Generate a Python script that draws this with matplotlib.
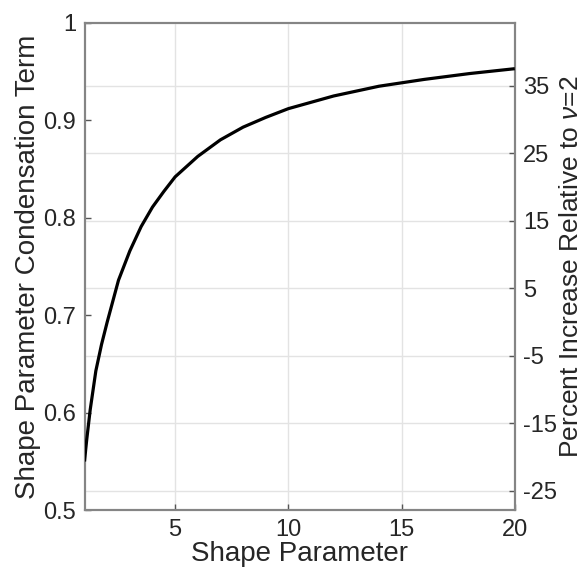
import numpy as np
import matplotlib
matplotlib.use("Agg")
import matplotlib.pyplot as plt

plt.rcParams['font.family'] = ['Liberation Sans', 'DejaVu Sans']
plt.rcParams['mathtext.fontset'] = 'custom'
plt.rcParams['mathtext.it'] = 'Liberation Sans:italic'
plt.rcParams['mathtext.rm'] = 'Liberation Sans'

# Shape parameter and its condensation term
shape = [1.0, 1.05, 1.1, 1.25, 1.5, 1.75, 2.0, 2.5, 3.0, 3.5, 4.0, 4.5,
         5.0, 6.0, 7.0, 8.0, 9.0, 10.0, 12.0, 14.0, 16.0, 18.0, 20.0]
term = [0.550, 0.562, 0.573, 0.603, 0.643, 0.670, 0.693, 0.736, 0.766, 0.791, 0.811, 0.827,
        0.842, 0.863, 0.880, 0.893, 0.903, 0.912, 0.925, 0.935, 0.942, 0.948, 0.953]

reference_shape = 2.0
x_ticks = [5, 10, 15, 20]
left_ticks = [0.5, 0.6, 0.7, 0.8, 0.9, 1.0]
left_labels = ["0.5", "0.6", "0.7", "0.8", "0.9", "1"]
right_ticks = [-25, -15, -5, 5, 15, 25, 35]

spine_col = "#858585"
grid_col = "#e3e3e3"
text_col = "#262626"

fig = plt.figure(figsize=(5.87, 5.72), dpi=100)
ax = fig.add_axes([0.144, 0.108, 0.733, 0.852])
ax2 = ax.twinx()

ref_val = term[shape.index(reference_shape)]
ylo, yhi = 0.5, 1.0

ax.plot(shape, term, color="black", lw=2.3, solid_capstyle="butt",
        solid_joinstyle="round", zorder=5)
ax.set_xlim(1, 20)
ax.set_ylim(ylo, yhi)
ax.set_xticks(x_ticks)
ax.set_yticks(left_ticks)
ax.set_yticklabels(left_labels)

ax2.set_ylim((ylo / ref_val - 1) * 100, (yhi / ref_val - 1) * 100)
ax2.set_yticks(right_ticks)
ax2.set_yticklabels([str(t) for t in right_ticks])

# grid: vertical from x ticks, horizontal from the percent axis
ax.xaxis.grid(True, color=grid_col, lw=1.0)
ax.yaxis.grid(False)
ax2.yaxis.grid(True, color=grid_col, lw=1.0)
ax.set_axisbelow(True)
ax2.set_axisbelow(True)
ax.set_zorder(ax2.get_zorder() + 1)
ax.patch.set_visible(False)

for a in (ax, ax2):
    for s in a.spines.values():
        s.set_color(spine_col)
        s.set_linewidth(1.5)
    a.tick_params(direction="in", length=4, width=1, color="#555555",
                  labelsize=17, labelcolor=text_col, pad=6)

ax.set_xlabel("Shape Parameter", fontsize=20, color=text_col, labelpad=0)
ax.set_ylabel("Shape Parameter Condensation Term", fontsize=20, color=text_col, labelpad=2)
ax2.set_ylabel(r"Percent Increase Relative to $\nu$=2", fontsize=19, color=text_col,
               rotation=90, labelpad=1)

fig.savefig("out.png", dpi=100, facecolor="white")
